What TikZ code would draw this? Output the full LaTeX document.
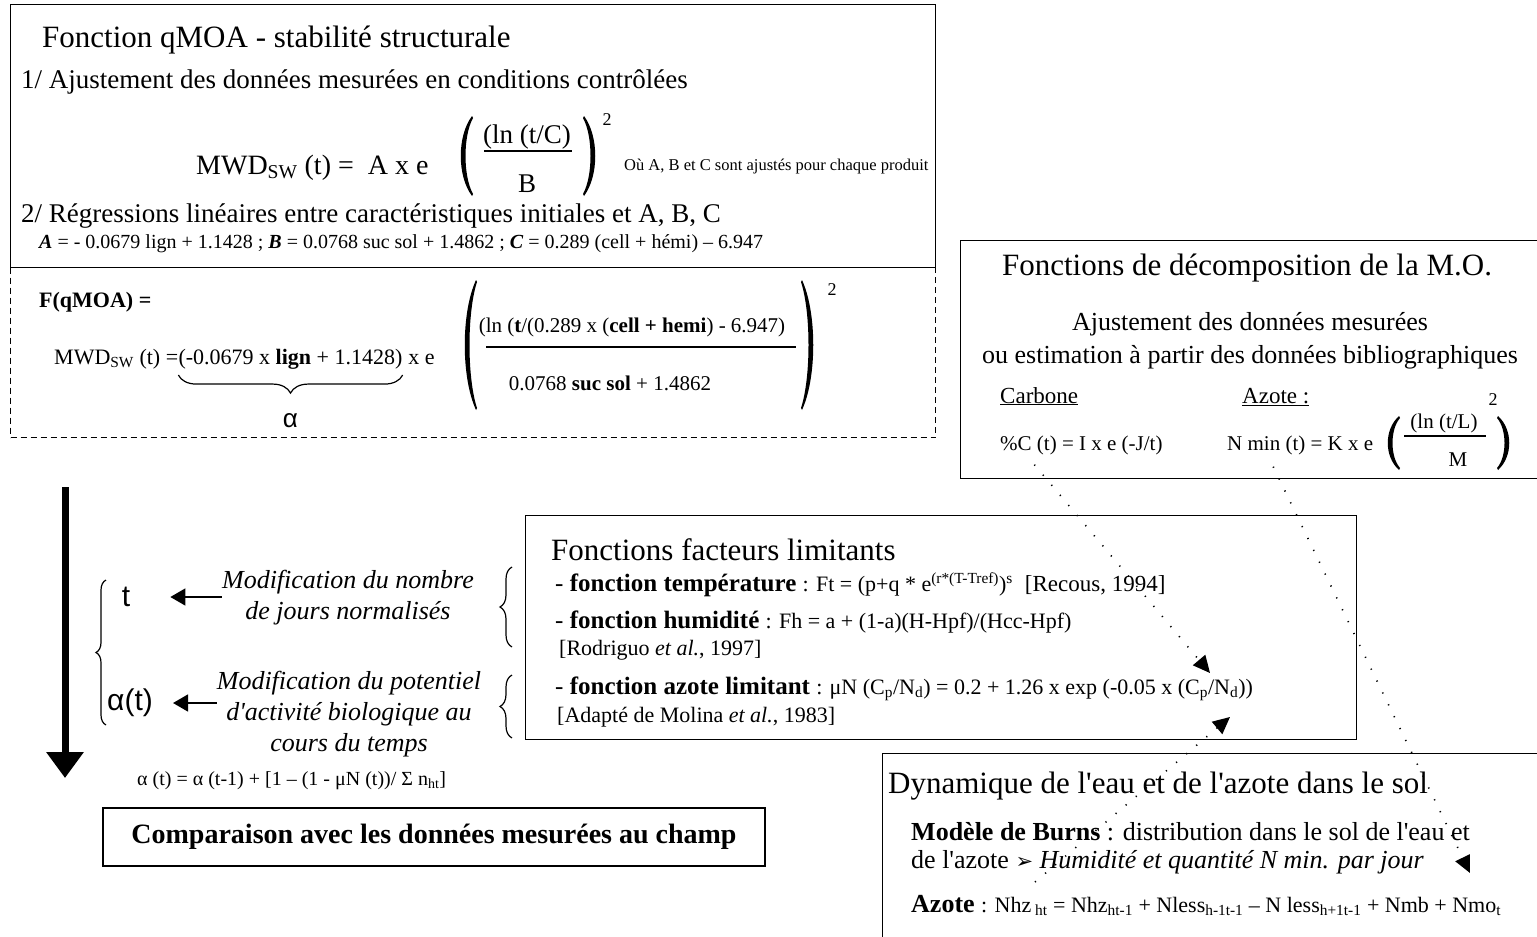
\documentclass[tikz,border=0pt]{standalone}
\usepackage{fontspec}
\setmainfont{Liberation Serif}[Ligatures=TeXOff]
\newfontfamily\sansfam{Liberation Sans}
\newfontfamily\dingfont{DejaVu Sans}
\usetikzlibrary{arrows.meta,positioning,decorations.pathreplacing,calc}
\newcommand{\smallsz}{\fontsize{22}{26}\selectfont}
\newcommand{\refsz}{\fontsize{23}{28}\selectfont}

\begin{document}
\begin{tikzpicture}[
    x=1pt, y=-1pt,
    box/.style={draw, line width=1.3pt, inner sep=0pt, anchor=north west},
    dashbox/.style={box, dash pattern=on 6pt off 4pt},
    lbl/.style={inner sep=0pt, anchor=base west},
    head/.style={lbl, font=\fontsize{31}{36}\selectfont},
    txt/.style={lbl, font=\fontsize{27}{32}\selectfont},
    body/.style={lbl, font=\fontsize{26}{31}\selectfont},
    eq/.style={lbl, font=\fontsize{21}{25}\selectfont},
    note/.style={lbl, font=\fontsize{18}{22}\selectfont},
    modif/.style={inner sep=0pt, align=center, font=\fontsize{26}{31}\selectfont\itshape},
    var/.style={inner sep=0pt, font=\fontsize{30}{36}\selectfont\sansfam},
    curly/.style={decorate, decoration={brace, amplitude=#1}, line width=1.2pt},
    feed/.style={line width=1.5pt, -{Triangle[length=15pt, width=17pt]}},
    dotlink/.style={line width=1.6pt, dash pattern=on 1.2pt off 12pt,
      -{Triangle[length=17pt, width=16pt]}},
    lparen/.pic={\fill (6,-#1) .. controls (-9,-#1/2) and (-9,#1/2) .. (6,#1)
      -- (7,#1-2) .. controls (-3,#1/2) and (-3,-#1/2) .. (7,-#1+2) -- cycle;}
  ]
  \useasboundingbox (0,0) rectangle (1537,937);

  % boxes
  \node[box, minimum width=925, minimum height=263] (qmoa) at (10,4) {};
  \node[dashbox, minimum width=925, minimum height=170] (fqmoa) at (10,267) {};
  \node[box, minimum width=590, minimum height=238] (decomp) at (960,240) {};
  \node[box, minimum width=831, minimum height=224] (limit) at (525,515) {};
  \node[box, minimum width=670, minimum height=200] (sol) at (882,753) {};

  % fonction qMOA
  \node[head] (qmoaT) at (42,47) {Fonction qMOA - stabilité structurale};
  \node[txt] (step1) at (21,88) {1/ Ajustement des données mesurées en conditions contrôlées};
  \node[lbl, font=\fontsize{28}{32}\selectfont] (mwdA) at (196,174) {MWD\textsubscript{SW} (t) =\ \ A x e};
  \pic at (466,156) {lparen=40};
  \node[txt, anchor=base] (numA) at (527,143) {(ln (t/C)};
  \draw[line width=1.2pt] (484,151) -- (572,151);
  \node[txt, anchor=base] (denA) at (527,192) {B};
  \pic[xscale=-1] at (590,156) {lparen=40};
  \node[note, anchor=center] (sqA) at (607,120) {2};
  \node[lbl, font=\fontsize{16.5}{20}\selectfont] (ouA) at (624,170)
    {Où A, B et C sont ajustés pour chaque produit};
  \node[txt] (step2) at (21,222) {2/ Régressions linéaires entre caractéristiques initiales et A, B, C};
  \node[lbl, font=\fontsize{20}{24}\selectfont] (regr) at (39,248)
    {\textbf{\textit{A}} = - 0.0679 lign + 1.1428 ; \textbf{\textit{B}} = 0.0768 suc sol + 1.4862 ;
     \textbf{\textit{C}} = 0.289 (cell + hémi) – 6.947};

  % F(qMOA)
  \node[lbl, font=\fontsize{22}{26}\selectfont\bfseries] (fq) at (39,307) {F(qMOA) =};
  \node[lbl, font=\fontsize{22}{26}\selectfont] (mwdB) at (54,364) {MWD\textsubscript{SW} (t) = };
  \node[lbl, font=\fontsize{22}{26}\selectfont] (alphaPart) at (mwdB.base east)
    {(-0.0679 x \textbf{lign} + 1.1428)};
  \node[lbl, font=\fontsize{22}{26}\selectfont] (expB) at (alphaPart.base east) {\ x e};
  \draw[curly=18pt, decoration={mirror}] ([yshift=-6pt]alphaPart.south west) -- ([yshift=-6pt]alphaPart.south east);
  \node[var, font=\fontsize{26}{30}\selectfont\sansfam] (alpha) at ($(alphaPart.south)+(0,52)$) {α};
  \pic at (470,345) {lparen=65};
  \node[lbl, font=\fontsize{21}{25}\selectfont, anchor=base] (numB) at (632,332)
    {(ln (\textbf{t}/(0.289 x (\textbf{cell + hemi}) - 6.947)};
  \draw[line width=1.2pt] (486,347) -- (796,347);
  \node[lbl, font=\fontsize{21}{25}\selectfont, anchor=base] (denB) at (610,390)
    {0.0768 \textbf{suc sol} + 1.4862};
  \pic[xscale=-1] at (808,345) {lparen=65};
  \node[note, anchor=center] (sqB) at (832,290) {2};

  % decomposition M.O.
  \node[head, anchor=base] (decT) at (1247,275) {Fonctions de décomposition de la M.O.};
  \node[body, anchor=base] (decL1) at (1250,330) {Ajustement des données mesurées};
  \node[body, anchor=base] (decL2) at (1250,363) {ou estimation à partir des données bibliographiques};
  \node[lbl, font=\fontsize{23}{27}\selectfont] (carbT) at (1000,403) {\underline{Carbone}};
  \node[lbl, font=\fontsize{23}{27}\selectfont] (azT) at (1242,403) {\underline{Azote :}};
  \node[eq] (carbF) at (1000,450) {\%C (t) = I x e (-J/t)};
  \node[eq] (azF) at (1227,450) {N min (t) = K x e};
  \pic at (1393,443) {lparen=27};
  \node[eq, anchor=base] (numC) at (1444,428) {(ln (t/L)};
  \draw[line width=1.2pt] (1404,436) -- (1486,436);
  \node[eq, anchor=base] (denC) at (1458,466) {M};
  \pic[xscale=-1] at (1504,443) {lparen=27};
  \node[note, anchor=center] (sqC) at (1493,400) {2};

  % facteurs limitants
  \node[head] (limT) at (551,560) {Fonctions facteurs limitants};
  \node[lbl, font=\fontsize{25}{30}\selectfont] (fTemp) at (555,591)
    {- \textbf{fonction température} {\smallsz : Ft = (p+q * e\textsuperscript{(r*(T-Tref)})\textsuperscript{s}}
     {\refsz\ [Recous, 1994]}};
  \node[lbl, font=\fontsize{25}{30}\selectfont] (fHum) at (555,628)
    {- \textbf{fonction humidité} {\smallsz : Fh = a + (1-a)(H-Hpf)/(Hcc-Hpf)}};
  \node[lbl, font=\fontsize{22}{26}\selectfont] (refHum) at (559,655) {[Rodriguo \textit{et al.}, 1997]};
  \node[lbl, font=\fontsize{25}{30}\selectfont] (fAz) at (555,694)
    {- \textbf{fonction azote limitant} {\smallsz : μN (C\textsubscript{p}/N\textsubscript{d}) = 0.2 + 1.26 x exp (-0.05 x (C\textsubscript{p}/N\textsubscript{d}))}};
  \node[lbl, font=\fontsize{22}{26}\selectfont] (refAz) at (557,722) {[Adapté de Molina \textit{et al.}, 1983]};

  % eau et azote dans le sol
  \node[head] (solT) at (888,793) {Dynamique de l'eau et de l'azote dans le sol};
  \node[body] (burns) at (911,840) {\textbf{Modèle de Burns} : distribution dans le sol de l'eau et};
  \node[body] (burnsB) at (911,868)
    {de l'azote {\dingfont\fontsize{21}{24}\selectfont ➢} \textit{Humidité et quantité N min. par jour}};
  \node[body] (azEq) at (911,912)
    {\textbf{Azote} {\smallsz : Nhz\textsubscript{ ht} = Nhz\textsubscript{ht-1} + Nless\textsubscript{h-1t-1} – N less\textsubscript{h+1t-1} + Nmb + Nmo\textsubscript{t}}};

  % time loop on the left
  \coordinate (flowTop) at (65,487);
  \coordinate (flowEnd) at (65,778);
  \draw[line width=7pt, -{Triangle[length=26pt, width=36pt]}] (flowTop) -- (flowEnd);
  \node[var] (tVar) at (126,597) {t};
  \node[var] (aVar) at (130,703) {α(t)};
  \draw[curly=10pt] (106,725) -- (106,580);
  \node[modif] (modA) at (348,598) {Modification du nombre\\de jours normalisés};
  \node[modif] (modB) at (349,714) {Modification du potentiel\\d'activité biologique au\\cours du temps};
  \draw[feed, shorten >=40pt] (modA.west |- tVar) -- (tVar.east);
  \draw[feed, shorten >=20pt] (modB.west |- aVar) -- (aVar.east);
  \draw[curly=12pt] (512,647) -- (512,567);
  \draw[curly=12pt] (512,738) -- (512,675);
  \node[lbl, font=\fontsize{20}{24}\selectfont] (aRule) at (137,785)
    {α (t) = α (t-1) + [1 – (1 - μN (t))/ Σ n\textsubscript{ht}]};
  \node[box, anchor=center, minimum width=662, minimum height=58,
    font=\fontsize{28}{32}\selectfont\bfseries] (champ) at (434,837)
    {Comparaison avec les données mesurées au champ};

  % dotted links
  \coordinate (limTo) at (1210,673);
  \coordinate (solFrom) at (1035,882);
  \coordinate (limUp) at (1230,717);
  \coordinate (solTo) at (1470,873);
  \draw[dotlink] ($(carbF.south)+(-47,10)$) -- (limTo);
  \draw[dotlink] (solFrom) -- (limUp);
  \draw[dotlink] ($(azF.south)+(-27,12)$) -- (solTo);
\end{tikzpicture}
\end{document}
